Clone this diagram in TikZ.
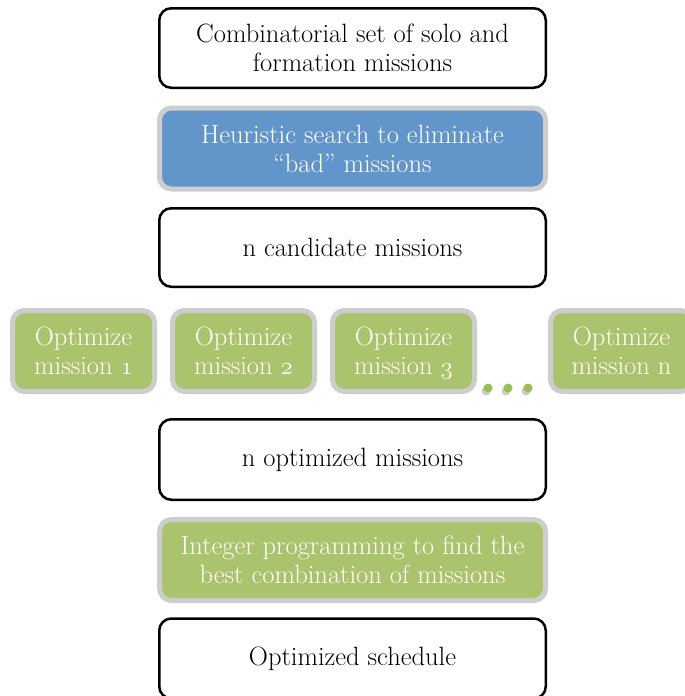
\documentclass[tikz,border=0pt]{standalone}
\usepackage{fontspec}
\definecolor{bluefill}{HTML}{6296CA}
\definecolor{greenfill}{HTML}{A9C46C}
\definecolor{graybord}{HTML}{CDCDCD}
\definecolor{dotgreen}{HTML}{98BF52}
\newcommand{\osnum}[1]{\smash{\usefont{OML}{lmm}{m}{it}#1}}
\tikzset{
  wbox/.style={draw=black, line width=2.5pt, rounded corners=12pt, fill=white,
    minimum width=386.5pt, align=center, text=black, inner sep=0pt,
    font=\fontsize{26.5}{29}\selectfont},
  cbox/.style={draw=graybord, line width=5pt, rounded corners=12pt,
    minimum width=386pt, minimum height=81pt, align=center, text=white, inner sep=0pt,
    font=\fontsize{26.5}{29}\selectfont},
  obox/.style={draw=graybord, line width=5pt, rounded corners=12pt, fill=greenfill,
    minimum width=142pt, minimum height=81pt, align=center, text=white, inner sep=0pt,
    font=\fontsize{26.5}{29}\selectfont},
  gdot/.style={circle, fill=dotgreen, minimum size=9pt, inner sep=0pt},
  gshadow/.style={circle, fill=black!45, opacity=0.45, minimum size=9pt, inner sep=0pt}
}
\begin{document}
\begin{tikzpicture}[x=1pt,y=-1pt]
\useasboundingbox (0,0) rectangle (685,696);
\clip (0,0) rectangle (685,696);
\node[wbox, minimum height=79.5pt] (comb) at (352.5,48) {Combinatorial set of solo and\\formation missions};
\node[cbox, fill=bluefill] (heur) at (352.5,148.5) {Heuristic search to eliminate\\``bad'' missions};
\node[wbox, minimum height=78.5pt] (cand) at (352.5,247.5) {n candidate missions};
\node[obox] (opt1) at (83.5,351) {Optimize\\mission \osnum{1}};
\node[obox] (opt2) at (243.5,351) {Optimize\\mission \osnum{2}};
\node[obox] (opt3) at (403.5,351) {Optimize\\mission \osnum{3}};
\node[obox] (optn) at (621.5,351) {Optimize\\mission n};
\foreach \i/\x in {1/488,2/508,3/528} {
  \node[gshadow] (s\i) at (\x-2,391) {};
  \node[gdot] (d\i) at (\x,388) {};
}
\node[wbox, minimum height=80.5pt] (optd) at (352.5,459.5) {n optimized missions};
\node[cbox, fill=greenfill] (intp) at (352.5,560) {Integer programming to find the\\best combination of missions};
\node[wbox, minimum height=80pt] (sched) at (352.5,658.5) {Optimized schedule};
\end{tikzpicture}
\end{document}
